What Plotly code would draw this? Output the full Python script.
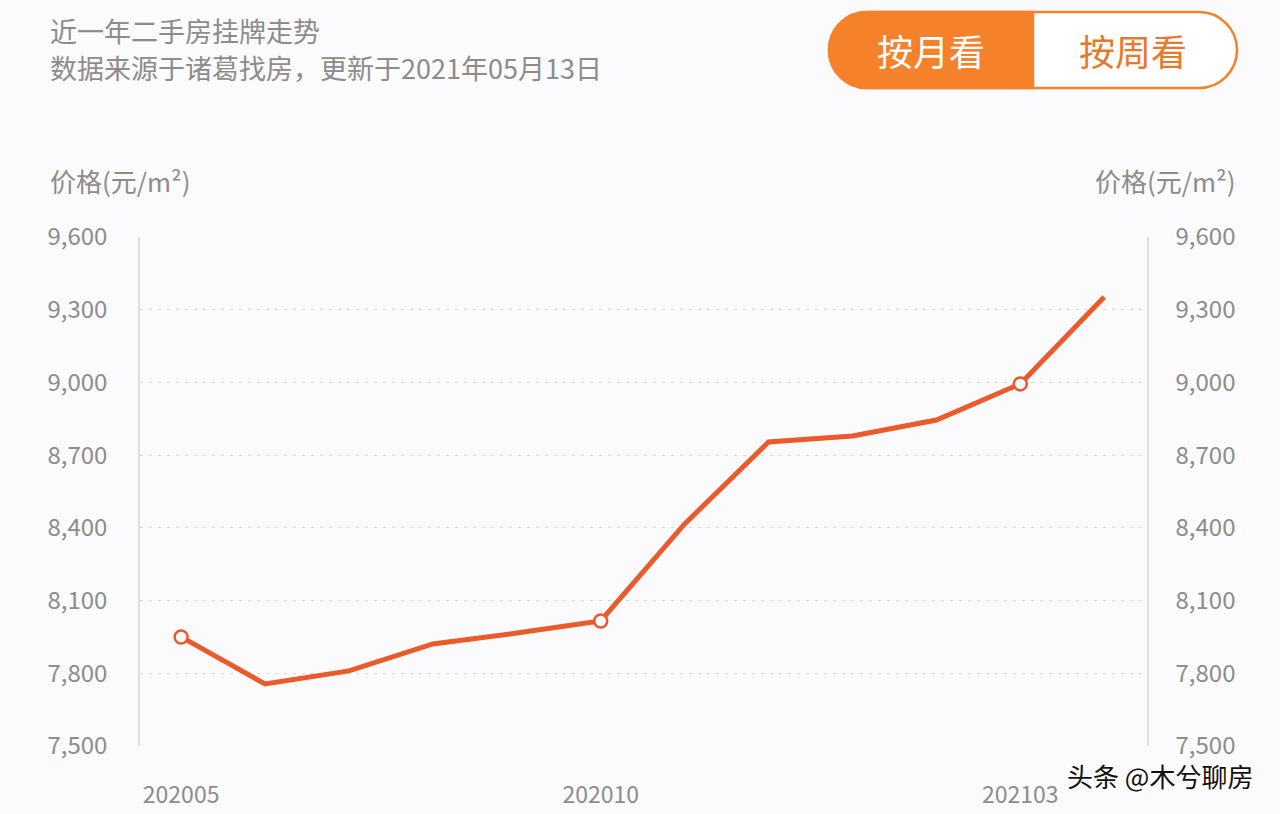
"""Second-hand listing price trend, recreated with Plotly."""

import plotly.graph_objects as go

months = ["202005", "202006", "202007", "202008", "202009", "202010",
          "202011", "202012", "202101", "202102", "202103", "202104"]
prices = [7950, 7756, 7810, 7921, 7966, 8016, 8416, 8754, 8779, 8845, 8994, 9352]
marked = ["202005", "202010", "202103"]
y_ticks = [7500, 7800, 8100, 8400, 8700, 9000, 9300, 9600]

FONT = "Noto Sans CJK SC"
GREY = "#8c8c8c"
ORANGE = "#F5822A"
LINE = "#EA5A2A"
BG = "#FBFAFC"

# plot area in pixels: x 140..1147, y 237..746
W, H = 1280, 814
L, R, T, B = 140, 133, 237, 68
pw, ph = W - L - R, H - T - B


def px_x(x):
    return (x - L) / pw


def px_y(y):
    return (H - B - y) / ph


fig = go.Figure()
fig.add_trace(go.Scatter(
    x=months, y=prices, mode="lines",
    line=dict(color=LINE, width=5), hoverinfo="skip",
))
mark_y = [prices[months.index(m)] for m in marked]
fig.add_trace(go.Scatter(
    x=marked, y=mark_y, mode="markers",
    marker=dict(size=13, color="white", line=dict(color=LINE, width=2.5)),
))
# invisible trace to drive the right-hand axis
fig.add_trace(go.Scatter(x=months, y=prices, yaxis="y2", mode="lines",
                         line=dict(width=0), opacity=0, hoverinfo="skip"))

yaxis_common = dict(
    range=[7500, 9600], tickvals=y_ticks, tickformat=",d",
    tickfont=dict(family=FONT, size=24, color=GREY),
    showgrid=True, gridcolor="#d6d6dc", griddash="3px,6px", gridwidth=1,
    zeroline=False, showline=True, linecolor="#dedee2", linewidth=1.5,
    ticks="", fixedrange=True, automargin=False,
)

fig.update_layout(
    width=W, height=H,
    margin=dict(l=L, r=R, t=T, b=B, pad=0, autoexpand=False),
    paper_bgcolor=BG, plot_bgcolor=BG,
    showlegend=False,
    xaxis=dict(
        type="category", range=[-0.49, 11.51],
        tickvals=marked, ticktext=marked,
        tickfont=dict(family=FONT, size=23, color=GREY),
        ticks="outside", ticklen=28, tickcolor="rgba(0,0,0,0)",
        showgrid=False, showline=False, zeroline=False, automargin=False,
    ),
    yaxis=dict(**yaxis_common, ticklabelstandoff=26),
    yaxis2=dict(**yaxis_common, overlaying="y", side="right", ticklabelstandoff=22),
)


def label(text, x, y, size, color=GREY, xanchor="left"):
    fig.add_annotation(text=text, x=px_x(x), y=px_y(y), xref="paper", yref="paper",
                       xanchor=xanchor, yanchor="middle", showarrow=False,
                       font=dict(family=FONT, size=size, color=color))


# titles
label("近一年二手房挂牌走势", 48, 30, 27)
label("数据来源于诸葛找房，更新于2021年05月13日", 48, 67, 27)
label("价格(元/m²)", 48, 180, 26)
label("价格(元/m²)", 1238, 180, 26, xanchor="right")

# pill toggle
k = 21
pill = (f"M -166,-38 L 166,-38 C {166 + k},-38 204,-{k} 204,0 "
        f"C 204,{k} {166 + k},38 166,38 L -166,38 "
        f"C -{166 + k},38 -204,{k} -204,0 C -204,-{k} -{166 + k},-38 -166,-38 Z")
left_half = (f"M 0,-38 L -166,-38 C -{166 + k},-38 -204,-{k} -204,0 "
             f"C -204,{k} -{166 + k},38 -166,38 L 0,38 Z")
anchor = dict(xref="paper", yref="paper", xsizemode="pixel", ysizemode="pixel",
              xanchor=px_x(1033), yanchor=px_y(50), layer="above")
fig.add_shape(type="path", path=pill, fillcolor="white",
              line=dict(color=ORANGE, width=2.5), **anchor)
fig.add_shape(type="path", path=left_half, fillcolor=ORANGE,
              line=dict(color=ORANGE, width=2.5), **anchor)
label("按月看", 931, 50, 36, color="white", xanchor="center")
label("按周看", 1133, 50, 36, color="#E8782A", xanchor="center")

# watermark
fig.add_annotation(text="头条 @木兮聊房", x=px_x(1255), y=px_y(775), xref="paper", yref="paper",
                   xanchor="right", yanchor="middle", showarrow=False,
                   font=dict(family=FONT, size=26, color="#111111",
                             shadow="1px 1px 0px white"))

fig.write_html("out.html", config={"displayModeBar": False},
               post_script="document.body.style.margin='0';")
